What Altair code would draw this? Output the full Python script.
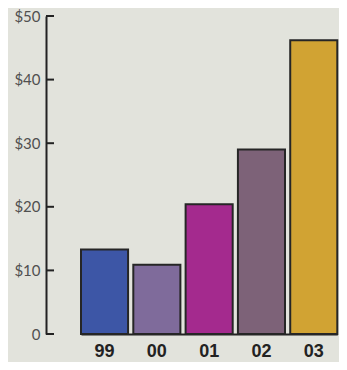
import altair as alt
import pandas as pd

years = ["99", "00", "01", "02", "03"]
values = [13.3, 10.9, 20.4, 29.0, 46.2]
colors = ["#3d56a6", "#7f6b9b", "#a42a8e", "#7d6278", "#d1a333"]
y_ticks = [0, 10, 20, 30, 40, 50]

df = pd.DataFrame({"year": years, "value": values, "color": colors})
ticks_df = pd.DataFrame({"v": y_ticks})

yscale = alt.Scale(domain=[0, 50], nice=False)
xscale = alt.Scale(domain=years, range=[35, 291.3], paddingInner=0.1, paddingOuter=0)

bars = alt.Chart(df).mark_bar(stroke="#262626", strokeWidth=2).encode(
    x=alt.X("year:N", sort=years, scale=xscale,
            axis=alt.Axis(title=None, labelAngle=0, labelFont="Liberation Sans",
                          labelFontWeight="bold", labelFontSize=18, labelColor="#222222",
                          labelPadding=8, ticks=False, domainColor="#222222",
                          domainWidth=2)),
    y=alt.Y("value:Q", scale=yscale,
            axis=alt.Axis(title=None, values=y_ticks, ticks=False,
                          labelExpr="datum.value == 0 ? '0' : '$' + datum.value",
                          labelFont="Lato", labelFontSize=15, labelColor="#505050",
                          labelPadding=6, domainColor="#222222", domainWidth=2,
                          grid=False)),
    color=alt.Color("color:N", scale=None),
)

tick_marks = alt.Chart(ticks_df).mark_rule(color="#222222", strokeWidth=2).encode(
    y=alt.Y("v:Q", scale=yscale),
    x=alt.value(0),
    x2=alt.value(8),
)

chart = alt.layer(bars, tick_marks).properties(
    width=293, height=318,
    autosize=alt.AutoSizeParams(type="none"),
    padding={"left": 38, "top": 8, "right": 0, "bottom": 28},
    background="#e2e3dc",
).configure_view(stroke=None).configure_axis(grid=False)

chart.save("out.html", embed_options={"renderer": "svg", "actions": False})
